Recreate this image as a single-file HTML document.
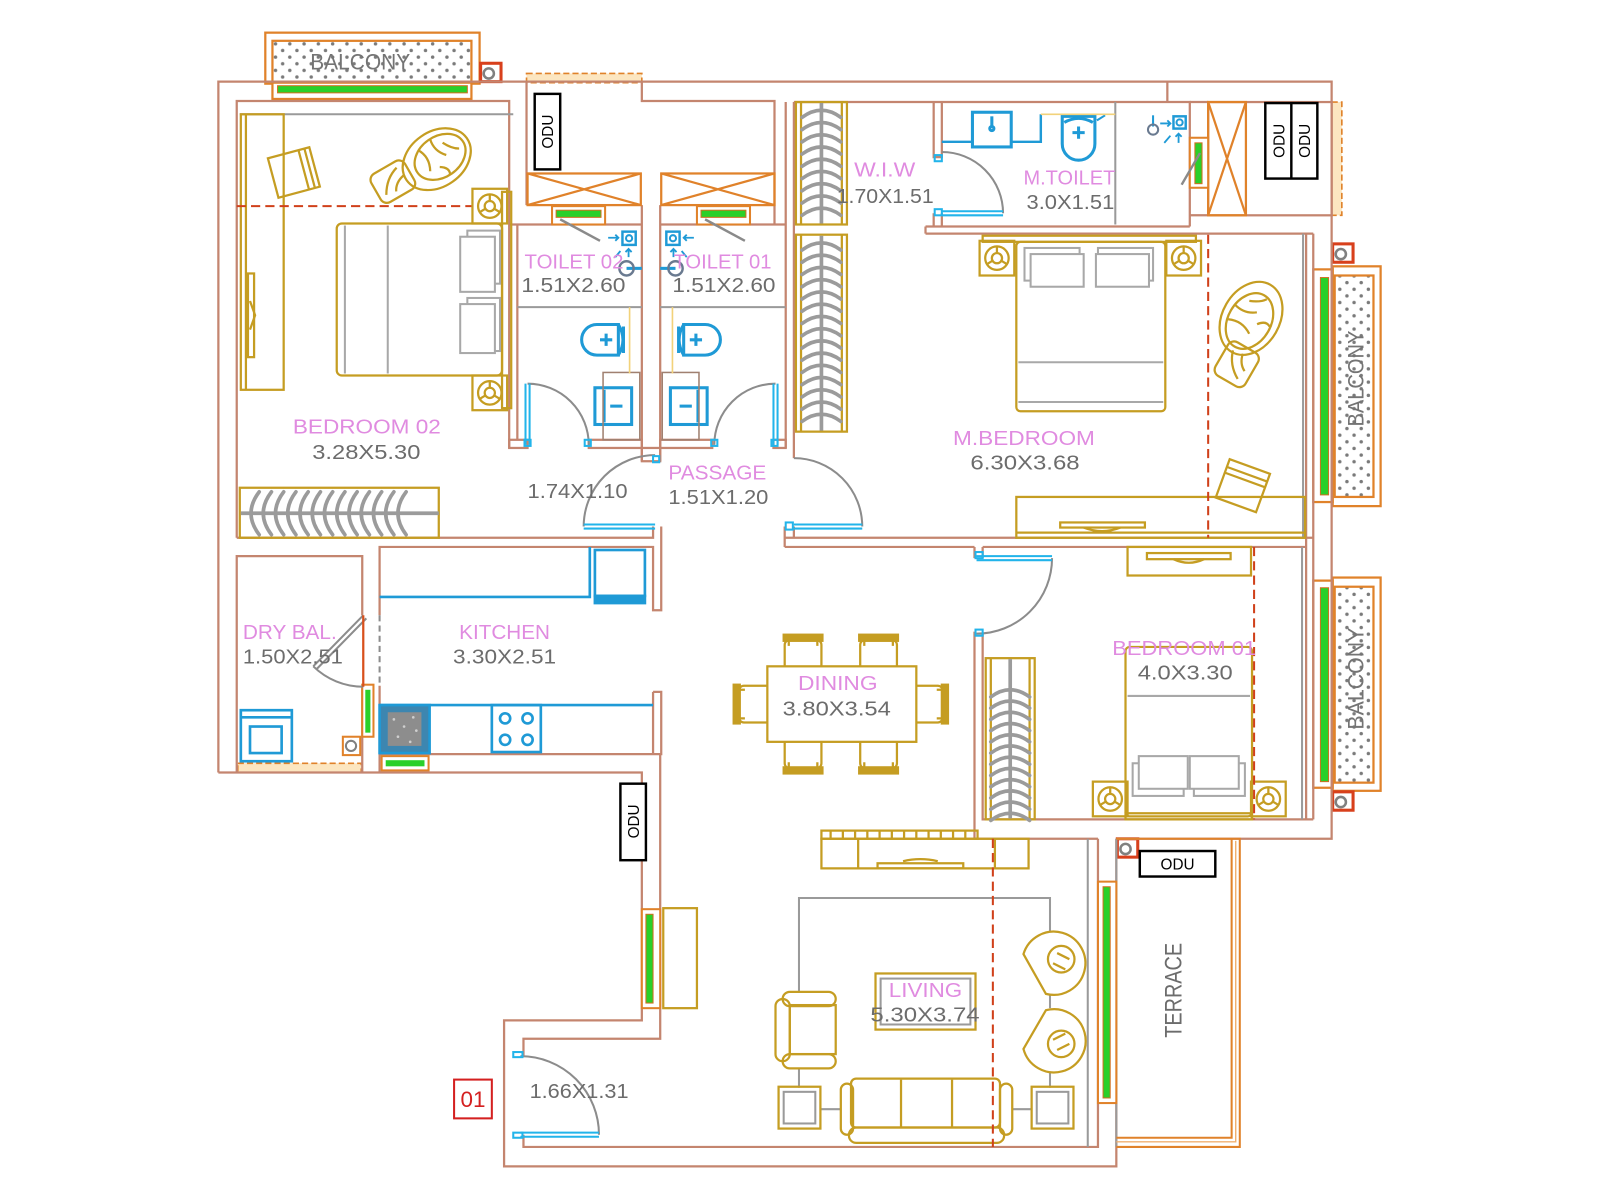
<!DOCTYPE html>
<html><head><meta charset="utf-8"><title>Floor plan</title>
<style>html,body{margin:0;padding:0;background:#fff}svg{display:block}</style></head>
<body>
<svg xmlns="http://www.w3.org/2000/svg" width="1600" height="1200" viewBox="0 0 1568 1176">
<defs>
<pattern id="dots" width="14" height="13" patternUnits="userSpaceOnUse"><circle cx="4" cy="4" r="1.7" fill="#7a7a7a"/><circle cx="11" cy="10.5" r="1.7" fill="#7a7a7a"/></pattern>
<path id="hg" d="M-19,7 Q0,-7 19,7" fill="none" stroke="#9b9b9b" stroke-width="3.6" stroke-linecap="round"/>
<path id="hgh" d="M7,-21 Q-9,0 7,21" fill="none" stroke="#9b9b9b" stroke-width="3.6" stroke-linecap="round"/>
<g id="ns" fill="none" stroke="#c59d22" stroke-width="2.2"><rect x="0" y="0" width="34" height="34"/><circle cx="17" cy="17" r="11.5"/><circle cx="17" cy="17" r="5"/><path d="M17,12 V5 M12.7,19.5 L7,23 M21.3,19.5 L27,23"/></g>
<g id="dch" fill="none" stroke="#c59d22" stroke-width="2.2"><rect x="-18" y="-14" width="36" height="32" rx="5"/><rect x="-19" y="-19" width="38" height="6" fill="#c59d22"/><path d="M-14,-13 V-8 M14,-13 V-8"/></g>
<g id="rp"><rect x="0" y="0" width="20" height="18" fill="none" stroke="#d8401c" stroke-width="3"/><circle cx="8" cy="10" r="5" fill="none" stroke="#808080" stroke-width="2.5"/></g>
</defs>

<!-- ============ BALCONIES ============ -->
<g stroke-width="2.2">
  <rect x="260" y="32" width="210" height="50" fill="none" stroke="#e0822a"/>
  <rect x="267" y="40" width="195" height="40" fill="url(#dots)" stroke="#e0822a"/>
  <rect x="267" y="81" width="195" height="16" fill="#fff" stroke="#e0822a"/>
  <rect x="272" y="84" width="186" height="7" fill="#2ad02a" stroke="#d07020" stroke-width="1"/>
  <rect x="1306" y="261" width="47" height="235" fill="none" stroke="#e0822a"/>
  <rect x="1308" y="270" width="38" height="217" fill="url(#dots)" stroke="#e0822a"/>
  <rect x="1287" y="264" width="19" height="228" fill="#fff" stroke="#e0822a"/>
  <rect x="1294" y="272" width="8" height="213" fill="#2ad02a" stroke="#d07020" stroke-width="1"/>
  <rect x="1306" y="566" width="47" height="209" fill="none" stroke="#e0822a"/>
  <rect x="1308" y="575" width="38" height="192" fill="url(#dots)" stroke="#e0822a"/>
  <rect x="1287" y="569" width="19" height="203" fill="#fff" stroke="#e0822a"/>
  <rect x="1294" y="576" width="8" height="190" fill="#2ad02a" stroke="#d07020" stroke-width="1"/>
</g>
<use href="#rp" x="471" y="62"/>
<use href="#rp" x="1306" y="239"/>
<use href="#rp" x="1306" y="776"/>
<use href="#rp" x="1095" y="822"/>

<g fill="#fce6c0" stroke="#e0822a" stroke-width="1.6" stroke-dasharray="6 3">
  <rect x="516" y="72" width="113" height="9"/>
  <rect x="1305" y="100" width="10" height="111"/>
  <rect x="233" y="748" width="121" height="9"/>
</g>

<!-- ============ WALLS ============ -->
<g fill="none" stroke="#c4856f" stroke-width="2.2">
  <path d="M214,757 V80 H1305 V822 H1094"/>
  <path d="M214,757 H629 V1000 H494 V1143 H1094 V822"/>
  <path d="M232,527 V99 H499 V439"/>
  <path d="M507,220 V431"/>
  <path d="M516,81 V201"/>
  <path d="M629,80 V99 H759 V220"/>
  <path d="M499,220 H629 M647,220 H770"/>
  <path d="M629,201 V452 M647,201 V452"/>
  <path d="M770,100 V439 M778,100 V449"/>
  <path d="M778,100 H1166 V222 M1144,80 V100"/>
  <path d="M915,100 V154 H923 V100"/>
  <path d="M915,209 V222 M923,209 V222 M907,222 H1166 M907,229 H1287 M907,222 V229"/>
  <path d="M1280,229 V803 M1287,229 V803"/>
  <path d="M769,527 H1287 M769,536 H955 M963,536 H1280 M769,516 V536 M778,516 V527"/>
  <path d="M955,536 V547 M963,536 V547 M955,619 V822 M963,621 V803 H1287 M955,822 H1076"/>
  <path d="M232,527 H640 V516 M648,516 V598 H640 V536 H372 V603 M372,672 V757"/>
  <path d="M640,678 H648 V739 H372 M640,678 V739"/>
  <path d="M232,757 V545 H355 V603 M355,672 V757"/>
  <path d="M647,739 V1018 H513 V1036 M513,1112 V1124 H1076 V822"/>
  <rect x="499" y="431" width="18" height="8"/>
  <rect x="577" y="431" width="52" height="8"/>
  <rect x="647" y="431" width="51" height="8"/>
  <rect x="758" y="431" width="12" height="8"/>
  <rect x="629" y="439" width="18" height="13"/>
  <path d="M1166,100 H1184 M1166,211 H1184"/>
  <rect x="1184" y="100" width="121" height="111"/>
</g>
<g fill="none" stroke="#9a9a9a" stroke-width="2">
  <path d="M1066,822 V1124"/>
  <path d="M1094,822 V1124"/>
  <path d="M1093,100 V220"/>
  <path d="M1277,229 V527 M1276,536 V803"/>
  <path d="M507,301 H629 M647,301 H770"/>
  <path d="M235,112 H503"/>
</g>

<!-- terrace -->
<g fill="none" stroke="#e0822a" stroke-width="2">
  <path d="M1094,822 H1215 V1124 H1094"/>
  <path d="M1207,822 V1115 H1094"/>
  <path d="M1211,824 V1119 H1094" stroke="#f0b070" stroke-width="1.4"/>
</g>

<!-- shaft X boxes -->
<g fill="none" stroke="#e0822a" stroke-width="2.2">
  <rect x="517" y="170" width="111" height="31"/>
  <path d="M517,170 L628,201 M628,170 L517,201"/>
  <rect x="648" y="170" width="111" height="31"/>
  <path d="M648,170 L759,201 M759,170 L648,201"/>
  <rect x="1184" y="100" width="37" height="111"/>
  <path d="M1184,100 L1221,211 M1221,100 L1184,211"/>
</g>

<!-- windows -->
<g stroke-width="2">
  <rect x="541" y="202" width="52" height="18" fill="#fff" stroke="#e0822a"/>
  <rect x="545" y="206" width="44" height="7" fill="#2ad02a" stroke="#d07020" stroke-width="1"/>
  <rect x="683" y="202" width="52" height="18" fill="#fff" stroke="#e0822a"/>
  <rect x="687" y="206" width="44" height="7" fill="#2ad02a" stroke="#d07020" stroke-width="1"/>
  <rect x="1166" y="135" width="18" height="49" fill="#fff" stroke="#e0822a"/>
  <rect x="1171" y="140" width="7" height="40" fill="#2ad02a" stroke="#d07020" stroke-width="1"/>
  <rect x="355" y="671" width="11" height="51" fill="#fff" stroke="#e0822a"/>
  <rect x="358" y="676" width="5" height="42" fill="#2ad02a" stroke="none"/>
  <rect x="374" y="741" width="46" height="14" fill="#fff" stroke="#e0822a"/>
  <rect x="378" y="745" width="38" height="6" fill="#2ad02a" stroke="none"/>
  <rect x="629" y="891" width="18" height="97" fill="#fff" stroke="#e0822a"/>
  <rect x="633" y="896" width="7" height="87" fill="#2ad02a" stroke="#d07020" stroke-width="1"/>
  <rect x="1076" y="864" width="18" height="217" fill="#fff" stroke="#e0822a"/>
  <rect x="1081" y="869" width="7" height="207" fill="#2ad02a" stroke="#d07020" stroke-width="1"/>
</g>
<g fill="none" stroke="#8a8a8a" stroke-width="2.4">
  <path d="M549,215 L588,236"/>
  <path d="M691,215 L730,236"/>
  <path d="M1158,181 L1176,150"/>
</g>
<rect x="336" y="722" width="17" height="18" fill="none" stroke="#e0822a" stroke-width="2"/>
<circle cx="344" cy="731" r="5" fill="none" stroke="#808080" stroke-width="2"/>

<!-- ============ DOORS ============ -->
<g fill="none" stroke="#8c8c8c" stroke-width="2">
  <path d="M517,376 A60,60 0 0 1 577,436"/>
  <path d="M760,376 A60,60 0 0 0 700,436"/>
  <path d="M572,516 A70,70 0 0 1 642,446"/>
  <path d="M845,516 A67,67 0 0 0 778,449"/>
  <path d="M983,209 A60,60 0 0 0 923,149"/>
  <path d="M1031,547 A74,74 0 0 1 957,621"/>
  <path d="M587,1112 A77,77 0 0 0 510,1035"/>
  <path d="M307,653 A70,70 0 0 0 356,673"/>
  <path d="M356,603 L307,653 M359,606 L310,656"/>
  <path d="M372,603 V672" stroke-dasharray="6 4"/>
</g>
<path d="M356,603 V673" stroke="#d8501c" stroke-width="2.2" fill="none"/>
<g fill="none" stroke="#22b4ea" stroke-width="2">
  <path d="M515,376 V436 M519,376 V436"/>
  <path d="M758,376 V436 M762,376 V436"/>
  <path d="M572,514 H642 M572,518 H642"/>
  <path d="M778,514 H845 M778,518 H845"/>
  <path d="M923,207 H983 M923,211 H983"/>
  <path d="M957,545 H1031 M957,549 H1031"/>
  <path d="M510,1110 H587 M510,1114 H587"/>
  <rect x="514" y="431" width="6" height="6"/>
  <rect x="573" y="431" width="6" height="6"/>
  <rect x="697" y="431" width="6" height="6"/>
  <rect x="756" y="431" width="6" height="6"/>
  <rect x="640" y="447" width="6" height="6"/>
  <rect x="770" y="512" width="7" height="7"/>
  <rect x="916" y="152" width="7" height="6"/>
  <rect x="916" y="205" width="7" height="6"/>
  <rect x="956" y="541" width="7" height="6"/>
  <rect x="956" y="617" width="7" height="6"/>
  <rect x="503" y="1031" width="9" height="5"/>
  <rect x="503" y="1110" width="9" height="5"/>
</g>

<!-- ============ BEDROOM 02 ============ -->
<g fill="none" stroke="#c59d22" stroke-width="2.2">
  <rect x="236" y="112" width="42" height="270"/>
  <path d="M241,112 V382"/>
  <rect x="243" y="268" width="6" height="82"/>
  <path d="M245,295 L250,309 L245,323"/>
  <g transform="translate(288,169) rotate(-15)">
    <rect x="-21" y="-20" width="42" height="40"/><path d="M10,-20 V20 M16,-20 V20"/>
  </g>
  <g transform="translate(428,156) rotate(-35)">
    <ellipse cx="0" cy="0" rx="36" ry="27"/>
    <ellipse cx="4" cy="0" rx="27" ry="20"/>
    <path d="M-10,-18 Q-4,-6 -12,6 M6,-20 Q2,-8 10,2 M-2,8 Q6,14 2,20 M14,-10 Q18,0 24,4"/>
  </g>
  <g transform="translate(385,178) rotate(-30)">
    <rect x="-19" y="-16" width="38" height="32" rx="7"/><path d="M-12,8 Q-4,-6 10,-10 M-2,10 Q2,2 12,0"/>
  </g>
  <rect x="492" y="188" width="9" height="212"/>
  <rect x="330" y="219" width="162" height="149" rx="5"/>
</g>
<use href="#ns" x="463" y="185"/>
<use href="#ns" x="463" y="368"/>
<g fill="none" stroke="#a8a8a8" stroke-width="2">
  <path d="M338,221 V366 M380,221 V366"/>
  <rect x="458" y="226" width="32" height="52"/><rect x="451" y="232" width="34" height="54" fill="#fff"/>
  <rect x="458" y="292" width="32" height="52"/><rect x="451" y="298" width="34" height="48" fill="#fff"/>
</g>
<path d="M232,202 H462" stroke="#d0401a" stroke-width="2" stroke-dasharray="9 5" fill="none"/>
<rect x="235" y="478" width="195" height="49" fill="none" stroke="#c59d22" stroke-width="2.2"/>
<path d="M236,503 H430" stroke="#9b9b9b" stroke-width="3.6"/>
<use href="#hgh" x="247" y="503"/><use href="#hgh" x="259" y="503"/><use href="#hgh" x="271" y="503"/><use href="#hgh" x="283" y="503"/><use href="#hgh" x="295" y="503"/><use href="#hgh" x="307" y="503"/><use href="#hgh" x="319" y="503"/><use href="#hgh" x="331" y="503"/><use href="#hgh" x="343" y="503"/><use href="#hgh" x="355" y="503"/><use href="#hgh" x="367" y="503"/><use href="#hgh" x="379" y="503"/><use href="#hgh" x="391" y="503"/>

<rect x="524" y="92" width="25" height="74" fill="#fff" stroke="#000" stroke-width="2.4"/>

<!-- ============ TOILETS ============ -->
<g id="t2" fill="none">
  <g stroke="#1f9ad6" stroke-width="3">
    <path d="M606,318 H585 A15,15 0 0 0 585,348 H606 Z"/>
    <path d="M606,318 Q615,333 606,348 M611,320 V346"/>
    <path d="M588,333 H600 M594,327 V339"/>
    <rect x="583" y="380" width="36" height="36"/>
    <path d="M592,382 V414"/>
    <path d="M598,398 H610"/>
    <rect x="610" y="227" width="13" height="13" stroke-width="2.4"/>
    <circle cx="616.5" cy="233.5" r="3" stroke-width="2"/>
    <path d="M596,233 H606 M603,230 L606,233 L603,236 M616,252 V244 M613,247 L616,244 L619,247 M603,252 L608,246" stroke-width="1.8"/>
    <path d="M614,263 H629" stroke-width="3"/>
  </g>
  <circle cx="614" cy="263" r="7" stroke="#6a7a90" stroke-width="2.4"/>
  <rect x="591" y="365" width="36" height="66" stroke="#a08070" stroke-width="1.5"/>
  <path d="M617,301 V366" stroke="#f2d27a" stroke-width="1.6"/>
</g>
<use href="#t2" transform="translate(1276,0) scale(-1,1)"/>

<!-- ============ W.I.W ============ -->
<g fill="none" stroke="#c59d22" stroke-width="2.2">
  <rect x="780" y="100" width="50" height="120"/><path d="M785,100 V220 M825,100 V220"/>
  <rect x="780" y="230" width="50" height="193"/><path d="M785,230 V423 M825,230 V423"/>
</g>
<path d="M805,101 V219 M805,231 V422" stroke="#9b9b9b" stroke-width="3.6"/>
<g>
<use href="#hg" x="805" y="108"/><use href="#hg" x="805" y="120"/><use href="#hg" x="805" y="132"/><use href="#hg" x="805" y="144"/><use href="#hg" x="805" y="156"/><use href="#hg" x="805" y="168"/><use href="#hg" x="805" y="180"/><use href="#hg" x="805" y="192"/><use href="#hg" x="805" y="204"/>
<use href="#hg" x="805" y="238"/><use href="#hg" x="805" y="250"/><use href="#hg" x="805" y="262"/><use href="#hg" x="805" y="274"/><use href="#hg" x="805" y="286"/><use href="#hg" x="805" y="298"/><use href="#hg" x="805" y="310"/><use href="#hg" x="805" y="322"/><use href="#hg" x="805" y="334"/><use href="#hg" x="805" y="346"/><use href="#hg" x="805" y="358"/><use href="#hg" x="805" y="370"/><use href="#hg" x="805" y="382"/><use href="#hg" x="805" y="394"/><use href="#hg" x="805" y="406"/>
</g>

<!-- ============ M.TOILET ============ -->
<g fill="none" stroke="#1f9ad6" stroke-width="3">
  <rect x="953" y="110" width="38" height="34"/>
  <path d="M972,114 V124"/><circle cx="972" cy="126" r="2"/>
  <path d="M923,139 H953 M991,139 H1020 V112" stroke-width="2.4"/>
  <path d="M1041,114 H1073 V141 A16,16 0 0 1 1041,141 Z"/>
  <path d="M1043,120 Q1057,112 1071,120"/>
  <path d="M1051,130 H1063 M1057,124 V136"/>
  <path d="M1075,118 L1083,113" stroke-width="2"/>
  <rect x="1150" y="114" width="12" height="12" stroke-width="2.4"/>
  <circle cx="1156" cy="120" r="3" stroke-width="2"/>
  <path d="M1137,121 H1146 M1144,118 L1147,121 L1144,124 M1155,140 V131 M1152,134 L1155,131 L1158,134 M1141,140 L1147,133" stroke-width="1.8"/>
  <path d="M1130,113 V124" stroke-width="2"/>
</g>
<circle cx="1130" cy="127" r="5" fill="none" stroke="#6a7a90" stroke-width="2"/>
<path d="M1020,112 H1093" stroke="#f2d27a" stroke-width="1.6"/>

<rect x="1240" y="101" width="51" height="74" fill="#fff" stroke="#000" stroke-width="2.4"/>
<path d="M1265.5,101 V175" stroke="#000" stroke-width="2.4"/>

<!-- ============ M.BEDROOM ============ -->
<g fill="none" stroke="#c59d22" stroke-width="2.2">
  <rect x="963" y="231" width="209" height="6"/>
  <rect x="996" y="237" width="146" height="166" rx="4"/>
  <g transform="translate(1226,312) rotate(-60)">
    <ellipse cx="0" cy="0" rx="38" ry="28"/>
    <ellipse cx="-3" cy="0" rx="29" ry="21"/>
    <path d="M-12,-19 Q-6,-6 -14,6 M4,-21 Q0,-8 8,2 M-2,8 Q6,14 2,20 M14,-10 Q18,0 24,4"/>
  </g>
  <g transform="translate(1212,357) rotate(-60)">
    <rect x="-19" y="-17" width="38" height="34" rx="7"/><path d="M-12,8 Q-4,-6 10,-10 M-2,10 Q2,2 12,0"/>
  </g>
  <g transform="translate(1218,476) rotate(20)">
    <rect x="-21" y="-20" width="42" height="40"/><path d="M-21,-12 H21 M-21,-6 H21"/>
  </g>
  <rect x="996" y="487" width="283" height="40"/>
  <path d="M996,522 H1279"/>
  <rect x="1039" y="512" width="83" height="5"/>
  <path d="M1062,517 Q1080,524 1098,517"/>
</g>
<use href="#ns" x="960" y="236"/>
<use href="#ns" x="1143" y="236"/>
<g fill="none" stroke="#a8a8a8" stroke-width="2">
  <path d="M998,355 H1140 M998,394 H1140"/>
  <rect x="1004" y="243" width="54" height="32"/><rect x="1010" y="249" width="52" height="32" fill="#fff"/>
  <rect x="1076" y="243" width="54" height="32"/><rect x="1074" y="249" width="52" height="32" fill="#fff"/>
</g>
<path d="M1184,230 V527" stroke="#d0401a" stroke-width="2" stroke-dasharray="9 5" fill="none"/>

<!-- ============ KITCHEN ============ -->
<g fill="none" stroke="#1f9ad6" stroke-width="2.6">
  <path d="M372,585 H578 V536"/>
  <rect x="583" y="539" width="49" height="45"/>
  <rect x="583" y="584" width="49" height="7" fill="#1f9ad6"/>
  <path d="M372,691 H640"/>
  <rect x="372" y="691" width="49" height="47" fill="#3d86b0"/>
  <rect x="380" y="698" width="33" height="33" fill="#8d8d8d" stroke="none"/>
  <rect x="482" y="691" width="48" height="46"/>
  <circle cx="495" cy="704" r="5"/><circle cx="517" cy="704" r="5"/><circle cx="495" cy="725" r="5"/><circle cx="517" cy="725" r="5"/>
  <rect x="236" y="696" width="50" height="50"/>
  <path d="M236,703 H286"/>
  <rect x="245" y="712" width="31" height="26"/>
</g>
<g fill="#cfcfcf"><circle cx="386" cy="705" r="1.3"/><circle cx="396" cy="712" r="1.3"/><circle cx="405" cy="703" r="1.3"/><circle cx="390" cy="722" r="1.3"/><circle cx="402" cy="727" r="1.3"/><circle cx="408" cy="716" r="1.3"/></g>

<!-- ============ DINING ============ -->
<use href="#dch" transform="translate(787,641)"/>
<use href="#dch" transform="translate(861,641)"/>
<use href="#dch" transform="translate(787,739) rotate(180)"/>
<use href="#dch" transform="translate(861,739) rotate(180)"/>
<use href="#dch" transform="translate(738,690) rotate(-90)"/>
<use href="#dch" transform="translate(910,690) rotate(90)"/>
<rect x="752" y="653" width="146" height="74" fill="#fff" stroke="#c59d22" stroke-width="2.2"/>

<!-- ============ BEDROOM 01 ============ -->
<g fill="none" stroke="#c59d22" stroke-width="2.2">
  <rect x="1105" y="536" width="121" height="28"/>
  <rect x="1124" y="542" width="82" height="6"/>
  <path d="M1150,548 Q1165,555 1180,548"/>
  <rect x="966" y="645" width="48" height="158"/><path d="M971,645 V803 M1009,645 V803"/>
  <rect x="1103" y="634" width="124" height="166" rx="4"/>
  <rect x="1103" y="797" width="124" height="6"/>
</g>
<path d="M990,646 V802" stroke="#9b9b9b" stroke-width="3.6"/>
<g>
<use href="#hg" x="990" y="676"/><use href="#hg" x="990" y="687"/><use href="#hg" x="990" y="698"/><use href="#hg" x="990" y="709"/><use href="#hg" x="990" y="720"/><use href="#hg" x="990" y="731"/><use href="#hg" x="990" y="742"/><use href="#hg" x="990" y="753"/><use href="#hg" x="990" y="764"/><use href="#hg" x="990" y="775"/><use href="#hg" x="990" y="786"/><use href="#hg" x="990" y="797"/>
</g>
<use href="#ns" x="1071" y="766"/>
<use href="#ns" x="1226" y="766"/>
<g fill="none" stroke="#a8a8a8" stroke-width="2">
  <path d="M1105,682 H1225"/>
  <rect x="1110" y="748" width="50" height="32"/><rect x="1116" y="741" width="48" height="32" fill="#fff"/>
  <rect x="1170" y="748" width="50" height="32"/><rect x="1166" y="741" width="48" height="32" fill="#fff"/>
</g>
<path d="M1229,536 V803" stroke="#d0401a" stroke-width="2" stroke-dasharray="9 5" fill="none"/>

<!-- ============ LIVING ============ -->
<g fill="none" stroke="#9a9a9a" stroke-width="2">
  <path d="M783,972 V880 H1029 V913"/>
  <path d="M783,1047 V1066 M1029,1050 V1066 M805,1087 H824 M992,1087 H1011 M1029,975 V988"/>
</g>
<g fill="none" stroke="#c59d22" stroke-width="2.2">
  <rect x="805" y="822" width="203" height="29"/>
  <path d="M841,822 V851 M975,822 V851"/>
  <rect x="805" y="814" width="153" height="8"/>
  <path d="M814,814 V822 M826,814 V822 M838,814 V822 M850,814 V822 M862,814 V822 M874,814 V822 M886,814 V822 M898,814 V822 M910,814 V822 M922,814 V822 M934,814 V822 M946,814 V822"/>
  <rect x="860" y="846" width="84" height="5"/>
  <path d="M885,844 Q902,840 919,844"/>
  <rect x="767" y="972" width="52" height="14" rx="7"/>
  <rect x="767" y="1033" width="52" height="14" rx="7"/>
  <rect x="760" y="979" width="14" height="61" rx="7"/>
  <rect x="774" y="985" width="45" height="48"/>
  <rect x="763" y="1065" width="41" height="41"/>
  <rect x="1011" y="1065" width="41" height="41"/>
  <rect x="832" y="1105" width="152" height="15" rx="7"/>
  <rect x="824" y="1062" width="12" height="50" rx="6"/>
  <rect x="980" y="1062" width="12" height="50" rx="6"/>
  <rect x="834" y="1057" width="146" height="48" rx="5"/>
  <path d="M883,1058 V1104 M933,1058 V1104"/>
  <rect x="858" y="954" width="98" height="55"/>
  <path d="M1003,935 L1025,974 A31,31 0 1 0 1003,935 Z"/>
  <path d="M1003,1028 L1025,990 A31,31 0 1 1 1003,1028 Z"/>
  <circle cx="1040" cy="940" r="13"/><path d="M1032,944 L1044,950 M1036,934 L1048,940"/>
  <circle cx="1040" cy="1023" r="13"/><path d="M1032,1019 L1044,1013 M1036,1029 L1048,1023"/>
</g>
<g fill="none" stroke="#9a9a9a" stroke-width="2">
  <rect x="768" y="1070" width="31" height="31"/>
  <rect x="1016" y="1070" width="31" height="31"/>
  <rect x="863" y="959" width="88" height="45"/>
</g>
<path d="M973,822 V1124" stroke="#d0401a" stroke-width="2" stroke-dasharray="9 5" fill="none"/>

<!-- ============ FOYER ============ -->
<rect x="650" y="890" width="33" height="98" fill="none" stroke="#c59d22" stroke-width="2.2"/>
<rect x="608" y="768" width="25" height="75" fill="#fff" stroke="#000" stroke-width="2.4"/>
<rect x="1117" y="834" width="74" height="25" fill="#fff" stroke="#000" stroke-width="2.4"/>
<rect x="445" y="1058" width="37" height="38" fill="none" stroke="#d42020" stroke-width="2"/>

<!-- ============ TEXT ============ -->
<g font-family="Liberation Sans, sans-serif" font-size="20" fill="#e08be0">
  <text x="287" y="425" textLength="145" lengthAdjust="spacingAndGlyphs">BEDROOM 02</text>
  <text x="514" y="263" textLength="97" lengthAdjust="spacingAndGlyphs">TOILET 02</text>
  <text x="660" y="263" textLength="96" lengthAdjust="spacingAndGlyphs">TOILET 01</text>
  <text x="837" y="173" textLength="60" lengthAdjust="spacingAndGlyphs">W.I.W</text>
  <text x="1003" y="181" textLength="90" lengthAdjust="spacingAndGlyphs">M.TOILET</text>
  <text x="934" y="436" textLength="139" lengthAdjust="spacingAndGlyphs">M.BEDROOM</text>
  <text x="655" y="470" textLength="96" lengthAdjust="spacingAndGlyphs">PASSAGE</text>
  <text x="238" y="626" textLength="92" lengthAdjust="spacingAndGlyphs">DRY BAL.</text>
  <text x="450" y="626" textLength="89" lengthAdjust="spacingAndGlyphs">KITCHEN</text>
  <text x="782" y="676" textLength="78" lengthAdjust="spacingAndGlyphs">DINING</text>
  <text x="1090" y="642" textLength="141" lengthAdjust="spacingAndGlyphs">BEDROOM 01</text>
  <text x="871" y="977" textLength="72" lengthAdjust="spacingAndGlyphs">LIVING</text>
</g>
<g font-family="Liberation Sans, sans-serif" font-size="20" fill="#6c6c6c">
  <text x="306" y="450" textLength="106" lengthAdjust="spacingAndGlyphs">3.28X5.30</text>
  <text x="511" y="286" textLength="102" lengthAdjust="spacingAndGlyphs">1.51X2.60</text>
  <text x="659" y="286" textLength="101" lengthAdjust="spacingAndGlyphs">1.51X2.60</text>
  <text x="820" y="199" textLength="95" lengthAdjust="spacingAndGlyphs">1.70X1.51</text>
  <text x="1006" y="205" textLength="86" lengthAdjust="spacingAndGlyphs">3.0X1.51</text>
  <text x="951" y="460" textLength="107" lengthAdjust="spacingAndGlyphs">6.30X3.68</text>
  <text x="655" y="494" textLength="98" lengthAdjust="spacingAndGlyphs">1.51X1.20</text>
  <text x="517" y="488" textLength="98" lengthAdjust="spacingAndGlyphs">1.74X1.10</text>
  <text x="238" y="650" textLength="98" lengthAdjust="spacingAndGlyphs">1.50X2.51</text>
  <text x="444" y="650" textLength="101" lengthAdjust="spacingAndGlyphs">3.30X2.51</text>
  <text x="767" y="701" textLength="106" lengthAdjust="spacingAndGlyphs">3.80X3.54</text>
  <text x="1115" y="666" textLength="93" lengthAdjust="spacingAndGlyphs">4.0X3.30</text>
  <text x="853" y="1001" textLength="107" lengthAdjust="spacingAndGlyphs">5.30X3.74</text>
  <text x="519" y="1076" textLength="97" lengthAdjust="spacingAndGlyphs">1.66X1.31</text>
  <text transform="translate(1158,1017) rotate(-90)" x="0" y="0" font-size="24" textLength="93" lengthAdjust="spacingAndGlyphs">TERRACE</text>
</g>
<g font-family="Liberation Sans, sans-serif" font-size="22" fill="#747474">
  <text x="304" y="68" textLength="98" lengthAdjust="spacingAndGlyphs">BALCONY</text>
  <text transform="translate(1336,418) rotate(-90)" x="0" y="0" textLength="94" lengthAdjust="spacingAndGlyphs">BALCONY</text>
  <text transform="translate(1336,715) rotate(-90)" x="0" y="0" textLength="100" lengthAdjust="spacingAndGlyphs">BALCONY</text>
</g>
<g font-family="Liberation Sans, sans-serif" font-size="15" fill="#000" text-anchor="middle">
  <text transform="translate(542,129) rotate(-90)" x="0" y="0">ODU</text>
  <text transform="translate(1259,138) rotate(-90)" x="0" y="0">ODU</text>
  <text transform="translate(1284,138) rotate(-90)" x="0" y="0">ODU</text>
  <text transform="translate(626,805) rotate(-90)" x="0" y="0">ODU</text>
  <text x="1154" y="852">ODU</text>
</g>
<text x="463.5" y="1085" font-family="Liberation Sans, sans-serif" font-size="22" fill="#d42020" text-anchor="middle">01</text>
</svg>
</body></html>
